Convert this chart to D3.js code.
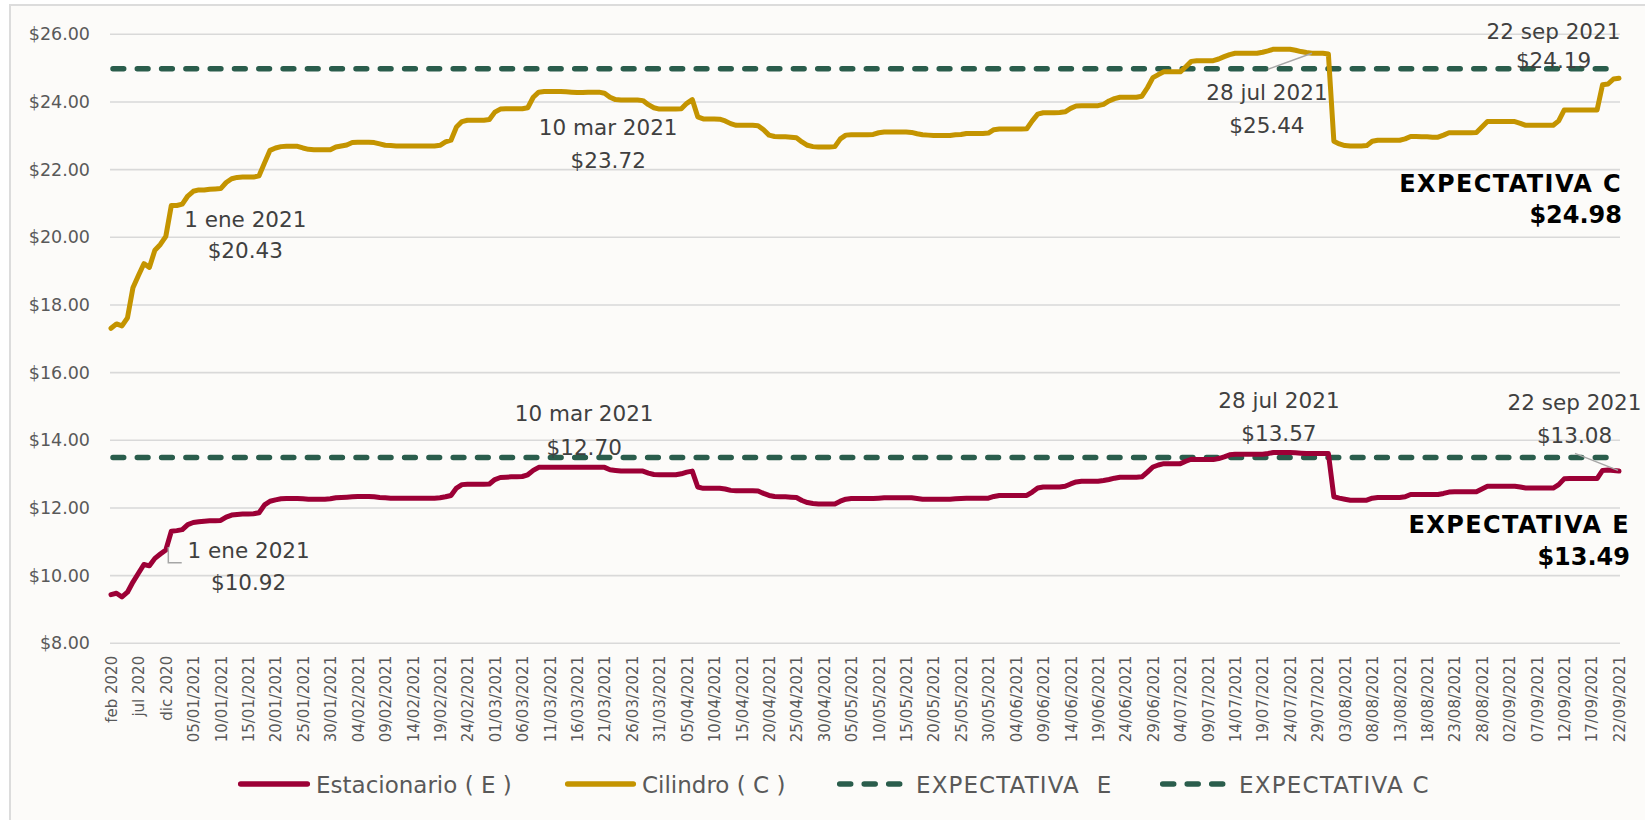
<!DOCTYPE html>
<html><head><meta charset="utf-8">
<script src="https://cdn.jsdelivr.net/npm/d3@7"></script>
<style>
html,body{margin:0;padding:0;background:#ffffff;}
svg{display:block;font-family:"DejaVu Sans",sans-serif;}
</style>
</head><body>
<svg id="chart" width="1645" height="820"></svg>
<script>
// ---------------- DATA ----------------
const monthCategories = ["feb 2020","mar 2020","abr 2020","may 2020","jun 2020","jul 2020",
  "ago 2020","sep 2020","oct 2020","nov 2020","dic 2020"];
const dayCategories = d3.timeDay.range(new Date(2021,0,1), new Date(2021,8,23))
  .map(d3.timeFormat("%d/%m/%Y"));
const categories = monthCategories.concat(dayCategories); // 276

const cilindro = [
17.31,17.44,17.38,17.62,18.51,18.87,19.22,19.11,19.62,19.79,
20.03,20.94,20.94,20.98,21.22,21.36,21.40,21.40,21.42,21.43,
21.44,21.62,21.73,21.77,21.78,21.78,21.78,21.82,22.20,22.57,
22.64,22.68,22.69,22.69,22.69,22.64,22.60,22.59,22.59,22.59,
22.59,22.67,22.70,22.73,22.80,22.81,22.81,22.81,22.80,22.76,
22.72,22.71,22.70,22.70,22.70,22.70,22.70,22.70,22.70,22.70,
22.72,22.82,22.87,23.26,23.42,23.46,23.46,23.46,23.46,23.48,
23.70,23.79,23.80,23.80,23.80,23.80,23.83,24.14,24.29,24.31,
24.31,24.31,24.31,24.30,24.29,24.28,24.28,24.29,24.29,24.29,
24.26,24.14,24.07,24.06,24.06,24.06,24.06,24.04,23.92,23.83,
23.79,23.79,23.79,23.79,23.80,23.96,24.07,23.56,23.50,23.50,
23.50,23.49,23.44,23.36,23.31,23.31,23.31,23.31,23.30,23.18,
23.02,22.98,22.97,22.97,22.96,22.94,22.82,22.72,22.68,22.67,
22.67,22.67,22.68,22.91,23.02,23.03,23.03,23.03,23.03,23.04,
23.09,23.11,23.11,23.11,23.11,23.11,23.10,23.06,23.03,23.02,
23.01,23.01,23.01,23.01,23.03,23.04,23.07,23.07,23.07,23.07,
23.08,23.18,23.20,23.20,23.20,23.20,23.20,23.21,23.44,23.64,
23.68,23.68,23.68,23.69,23.71,23.81,23.88,23.89,23.89,23.89,
23.89,23.93,24.03,24.10,24.14,24.14,24.14,24.14,24.17,24.42,
24.72,24.81,24.89,24.89,24.89,24.89,25.04,25.20,25.22,25.22,
25.22,25.22,25.27,25.34,25.40,25.44,25.44,25.44,25.44,25.44,
25.47,25.51,25.56,25.56,25.56,25.56,25.53,25.49,25.46,25.44,
25.44,25.44,25.42,22.84,22.76,22.71,22.70,22.70,22.70,22.71,
22.84,22.87,22.87,22.87,22.87,22.87,22.91,22.98,22.98,22.97,
22.97,22.96,22.96,23.02,23.09,23.09,23.09,23.09,23.09,23.10,
23.26,23.42,23.42,23.42,23.42,23.42,23.42,23.37,23.31,23.31,
23.31,23.31,23.31,23.31,23.44,23.76,23.76,23.76,23.76,23.76,
23.76,23.76,24.51,24.53,24.68,24.70];

const estacionario = [
9.44,9.48,9.37,9.51,9.81,10.07,10.33,10.29,10.51,10.64,
10.76,11.31,11.33,11.36,11.51,11.57,11.59,11.61,11.62,11.62,
11.63,11.73,11.79,11.81,11.82,11.82,11.83,11.86,12.09,12.20,
12.24,12.27,12.28,12.28,12.28,12.27,12.26,12.26,12.26,12.26,
12.27,12.30,12.31,12.32,12.33,12.34,12.34,12.34,12.33,12.31,
12.30,12.29,12.29,12.29,12.29,12.29,12.29,12.29,12.29,12.29,
12.30,12.33,12.37,12.59,12.69,12.70,12.70,12.70,12.70,12.71,
12.84,12.90,12.91,12.92,12.92,12.93,12.98,13.11,13.20,13.20,
13.20,13.20,13.20,13.20,13.20,13.20,13.20,13.20,13.20,13.20,
13.20,13.13,13.11,13.09,13.09,13.09,13.09,13.09,13.03,12.99,
12.98,12.98,12.98,12.98,13.01,13.06,13.09,12.62,12.58,12.58,
12.58,12.58,12.56,12.52,12.51,12.51,12.51,12.51,12.50,12.43,
12.37,12.34,12.33,12.33,12.32,12.31,12.22,12.16,12.13,12.12,
12.12,12.12,12.12,12.20,12.26,12.28,12.28,12.28,12.28,12.28,
12.29,12.30,12.30,12.30,12.30,12.30,12.30,12.28,12.26,12.26,
12.26,12.26,12.26,12.26,12.27,12.28,12.29,12.29,12.29,12.29,
12.29,12.34,12.37,12.37,12.37,12.37,12.37,12.37,12.47,12.59,
12.62,12.62,12.62,12.62,12.64,12.71,12.77,12.79,12.79,12.79,
12.79,12.81,12.84,12.88,12.91,12.91,12.91,12.91,12.92,13.06,
13.21,13.27,13.31,13.31,13.31,13.31,13.38,13.44,13.43,13.43,
13.43,13.43,13.46,13.51,13.57,13.59,13.59,13.59,13.59,13.59,
13.59,13.61,13.64,13.64,13.64,13.64,13.63,13.62,13.61,13.61,
13.61,13.61,13.61,12.33,12.29,12.26,12.23,12.23,12.23,12.23,
12.29,12.31,12.31,12.31,12.31,12.31,12.33,12.40,12.40,12.40,
12.40,12.40,12.40,12.43,12.47,12.48,12.48,12.48,12.48,12.48,
12.56,12.64,12.64,12.64,12.64,12.64,12.64,12.62,12.59,12.59,
12.59,12.59,12.59,12.59,12.69,12.86,12.87,12.87,12.87,12.87,
12.87,12.87,13.11,13.12,13.11,13.09];

const expectativaE = 13.49;
const expectativaC = 24.98;
const yTickValues = [8,10,12,14,16,18,20,22,24,26];
const xTickLabels = categories.filter((d,i) => i % 5 === 0);

const seriesNames = ["Estacionario ( E )","Cilindro ( C )","EXPECTATIVA  E","EXPECTATIVA C"];
const annotationCats   = ["01/01/2021","10/03/2021","28/07/2021","22/09/2021","01/01/2021","10/03/2021","28/07/2021","22/09/2021"];
const annotationDates  = ["1 ene 2021","10 mar 2021","28 jul 2021","22 sep 2021","1 ene 2021","10 mar 2021","28 jul 2021","22 sep 2021"];
const annotationValues = [20.43,23.72,25.44,24.19,10.92,12.70,13.57,13.08];

// ---------------- LAYOUT / STYLE ----------------
const W = 1645, H = 820;
const margin = {left:111, right:26, top:34.3, bottom:176.7};
const colE = "#9c0036", colC = "#c49400", colX = "#2a5d4c";
const textGrey = "#595959", annGrey = "#404040";
// offsets of annotation text (centre x, baseline of line 1, baseline of line 2) from the anchor point
const annOffsets = [
  {dx:74,  dy1:4,     dy2:35.5},
  {dx:64,  dy1:23.6,  dy2:56.6},
  {dx:-45, dy1:46.8,  dy2:79.8},
  {dx:-65.5,dy1:-56.5,dy2:-27.5},
  {dx:77.3,dy1:13,    dy2:45.5},
  {dx:40,  dy1:-63.3, dy2:-29.3},
  {dx:-33, dy1:-47.2, dy2:-13.9},
  {dx:-44.5,dy1:-61.9,dy2:-28}
];

const svg = d3.select("#chart");
const x = d3.scalePoint().domain(categories).range([margin.left, W - margin.right]);
const y = d3.scaleLinear().domain([8,26]).range([H - margin.bottom, margin.top]);

// background + frame
svg.append("rect").attr("x",0).attr("y",0).attr("width",W).attr("height",H).attr("fill","#ffffff");
svg.append("rect").attr("x",10).attr("y",5).attr("width",W).attr("height",H)
  .attr("fill","#fcfbf9").attr("stroke","#dcdcdc").attr("stroke-width",2);

// gridlines
const x0 = x.range()[0]-1, x1 = x.range()[1]+1;
svg.append("g").selectAll("line").data(yTickValues).join("line")
  .attr("x1",x0).attr("x2",x1)
  .attr("y1",d=>y(d)).attr("y2",d=>y(d))
  .attr("stroke","#d9d9d9").attr("stroke-width",1.6);

// y axis labels
const yAxis = d3.axisLeft(y).tickValues(yTickValues).tickFormat(d=>"$"+d3.format(".2f")(d)).tickSize(0).tickPadding(0);
const gy = svg.append("g").attr("transform",`translate(${margin.left-21},0)`).call(yAxis);
gy.select(".domain").remove();
gy.selectAll("text").style("font-size","17.5px").attr("fill",textGrey).style("font-family","DejaVu Sans");

// x axis labels
const xAxis = d3.axisBottom(x).tickValues(xTickLabels).tickSize(0).tickPadding(0);
const gx = svg.append("g").attr("transform",`translate(0,${y(8)})`).call(xAxis);
gx.select(".domain").remove();
gx.selectAll("text")
  .style("font-size","15px").attr("fill",textGrey).style("font-family","DejaVu Sans")
  .attr("text-anchor","end")
  .attr("transform","translate(0,12.5) rotate(-90)")
  .attr("x",0).attr("y",0).attr("dy","0.36em");

// expectation lines
const dash = "10.7 13.6";
[[expectativaC],[expectativaE]].forEach(([v]) => {
  svg.append("line")
    .attr("x1",x.range()[0]+2).attr("x2",x.range()[1]-8)
    .attr("y1",y(v)).attr("y2",y(v))
    .attr("stroke",colX).attr("stroke-width",5.5)
    .attr("stroke-linecap","round").attr("stroke-dasharray",dash);
});

// series lines
const line = d3.line().x((d,i)=>x(categories[i])).y(d=>y(d)).curve(d3.curveLinear);
svg.append("path").datum(cilindro).attr("d",line).attr("fill","none")
  .attr("stroke",colC).attr("stroke-width",5).attr("stroke-linejoin","round").attr("stroke-linecap","round");
svg.append("path").datum(estacionario).attr("d",line).attr("fill","none")
  .attr("stroke",colE).attr("stroke-width",5).attr("stroke-linejoin","round").attr("stroke-linecap","round");

// annotations
const ann = svg.append("g").attr("fill",annGrey).style("font-size","21.5px").attr("text-anchor","middle");
annotationCats.forEach((c,i) => {
  const ax = x(c), ay = y(annotationValues[i]), o = annOffsets[i];
  ann.append("text").attr("x",ax+o.dx).attr("y",ay+o.dy1).text(annotationDates[i]);
  ann.append("text").attr("x",ax+o.dx).attr("y",ay+o.dy2).text("$"+d3.format(".2f")(annotationValues[i]));
});
// leader lines
const lead = svg.append("g").attr("fill","none").attr("stroke","#a6a6a6").attr("stroke-width",1.5);
{
  const ax = x(annotationCats[2]), ay = y(annotationValues[2]);
  lead.append("line").attr("x1",ax).attr("y1",ay).attr("x2",ax-44).attr("y2",ay+16);
}
{
  const ax = x(annotationCats[7]), ay = y(annotationValues[7]);
  lead.append("line").attr("x1",ax-1).attr("y1",ay-1).attr("x2",ax-44).attr("y2",ay-18);
}
{
  const ax = x(annotationCats[4]), ay = y(annotationValues[4]);
  lead.append("polyline").attr("points",`${ax-3},${ay+2.5} ${ax-3},${ay+18.2} ${ax+10.4},${ay+18.2}`);
}

// expectation labels (bold)
const bold = svg.append("g").attr("font-weight","bold").attr("fill","#000").style("font-size","24px").attr("text-anchor","end");
const xLast = x(categories[categories.length-1]);
bold.append("text").attr("x",xLast+3).attr("y",y(expectativaC)+122.9).style("letter-spacing","1.4px").text("EXPECTATIVA C");
bold.append("text").attr("x",xLast+3).attr("y",y(expectativaC)+154.2).text("$"+d3.format(".2f")(expectativaC));
bold.append("text").attr("x",xLast+11).attr("y",y(expectativaE)+75.9).style("letter-spacing","1.4px").text("EXPECTATIVA E");
bold.append("text").attr("x",xLast+11).attr("y",y(expectativaE)+107.4).text("$"+d3.format(".2f")(expectativaE));

// legend
const legendLayout = [
  {x:238, len:72, gap:6,  color:colE, dashed:false, ls:0},
  {x:565, len:71, gap:6,  color:colC, dashed:false, ls:0},
  {x:837, len:66, gap:13, color:colX, dashed:true,  ls:1.1},
  {x:1160,len:67, gap:12, color:colX, dashed:true,  ls:1.2}
];
const legY = 784;
const leg = svg.append("g");
seriesNames.forEach((name,i) => {
  const L = legendLayout[i];
  leg.append("line")
    .attr("x1",L.x+2.7).attr("x2",L.x+L.len-2.7).attr("y1",legY).attr("y2",legY)
    .attr("stroke",L.color).attr("stroke-width",5.5)
    .attr("stroke-linecap","round")
    .attr("stroke-dasharray",L.dashed?"11 13.5":null);
  leg.append("text").attr("x",L.x+L.len+L.gap).attr("y",legY+8.5)
    .style("font-size","23px").style("letter-spacing",L.ls+"px")
    .attr("fill",textGrey).style("white-space","pre").text(name);
});
console.log(categories.length, cilindro.length, estacionario.length);
</script>
</body></html>
